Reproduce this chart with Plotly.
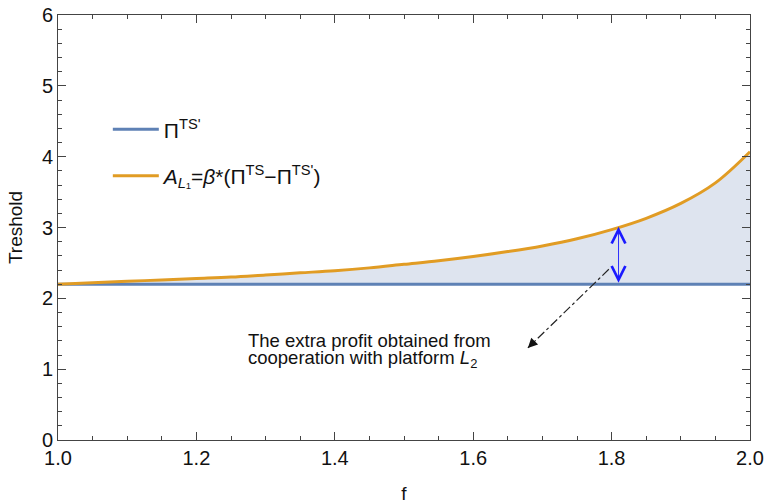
import plotly.graph_objects as go

# Data
f_vals = [1.00, 1.05, 1.10, 1.15, 1.20, 1.25, 1.30, 1.35, 1.40, 1.45, 1.50,
          1.55, 1.60, 1.65, 1.70, 1.75, 1.80, 1.85, 1.90, 1.95, 2.00]
pi_ts_prime = [2.20] * len(f_vals)
a_l1 = [2.20, 2.22, 2.24, 2.26, 2.28, 2.30, 2.33, 2.36, 2.39, 2.43, 2.48,
        2.53, 2.59, 2.66, 2.74, 2.84, 2.97, 3.13, 3.34, 3.63, 4.07]

x_ticks = [1.0, 1.2, 1.4, 1.6, 1.8, 2.0]
y_ticks = [0, 1, 2, 3, 4, 5, 6]

arrow_f = 1.81
arrow_low = 2.20
arrow_high = 3.01
pointer_start = (1.796, 2.41)
pointer_end = (1.679, 1.30)

note_lines = ["The extra profit obtained from",
              "cooperation with platform <i>L</i><sub>2</sub>"]
note_pos = [(1.272, 1.40), (1.272, 1.14)]

BLUE = "#5e81b5"
ORANGE = "#e19c24"
FILL = "rgba(222,228,239,1)"
FONT = "Liberation Sans, Arial, sans-serif"

fig = go.Figure()
# fill between the curves
fig.add_trace(go.Scatter(x=f_vals, y=pi_ts_prime, mode="lines",
                         line=dict(width=0, color=BLUE), showlegend=False,
                         hoverinfo="skip"))
fig.add_trace(go.Scatter(x=f_vals, y=a_l1, mode="lines", fill="tonexty",
                         fillcolor=FILL, line=dict(width=0, color=ORANGE, shape="spline"),
                         showlegend=False, hoverinfo="skip"))
# lines
fig.add_trace(go.Scatter(x=f_vals, y=pi_ts_prime, mode="lines",
                         line=dict(width=3, color=BLUE),
                         name="Π<sup>TS'</sup>", legendgroup="a"))
fig.add_trace(go.Scatter(x=f_vals, y=a_l1, mode="lines",
                         line=dict(width=3, color=ORANGE, shape="spline"),
                         name="<i>A</i><sub><i>L</i>₁</sub>=<i>β</i>*(Π<sup>TS</sup>−Π<sup>TS'</sup>)",
                         legendgroup="b"))

# dash-dot pointer line
fig.add_shape(type="line", x0=pointer_start[0], y0=pointer_start[1],
              x1=pointer_end[0], y1=pointer_end[1],
              line=dict(color="#222", width=1.2, dash="dashdot"))

annotations = [
    # blue double arrow
    dict(x=arrow_f, y=arrow_high, ax=arrow_f, ay=arrow_low, xref="x", yref="y",
         axref="x", ayref="y", text="", showarrow=True, arrowside="end+start",
         arrowhead=5, startarrowhead=5, arrowsize=3, startarrowsize=3,
         arrowwidth=0.9, arrowcolor="#1a1aff"),
    # pointer arrowhead
    dict(x=pointer_end[0], y=pointer_end[1], ax=8, ay=-8, xref="x", yref="y",
         text="", showarrow=True, arrowhead=2, arrowsize=1.6, arrowwidth=1.2,
         arrowcolor="#111"),
]
for txt, (nx, ny) in zip(note_lines, note_pos):
    annotations.append(dict(x=nx, y=ny, xref="x", yref="y", xanchor="left",
                            yanchor="middle", align="left", showarrow=False, text=txt,
                            font=dict(family=FONT, size=18.5, color="#111")))

axis_common = dict(showline=True, linecolor="#444", linewidth=1, mirror="ticks",
                   ticks="inside", ticklen=8, tickcolor="#444", showgrid=False,
                   zeroline=False, automargin=False, ticklabeloverflow="allow",
                   tickfont=dict(family=FONT, size=20, color="#111"))

fig.update_layout(
    width=767, height=504,
    margin=dict(l=58, r=17, t=15, b=64),
    paper_bgcolor="white", plot_bgcolor="white",
    font=dict(family=FONT, color="#111"),
    showlegend=True,
    legend=dict(x=0.072, y=0.676, xanchor="left", yanchor="middle",
                bgcolor="rgba(0,0,0,0)", font=dict(family=FONT, size=21, color="#111"),
                tracegroupgap=16, itemwidth=46),
    annotations=annotations,
    xaxis=dict(range=[1, 2], tickvals=x_ticks, ticktext=[f"{v:.1f}" for v in x_ticks],
               minor=dict(dtick=0.05, ticks="inside", ticklen=4, tickcolor="#444"),
               title=dict(text="f", font=dict(family=FONT, size=19, color="#111"), standoff=18),
               **axis_common),
    yaxis=dict(range=[0, 6], tickvals=y_ticks,
               minor=dict(dtick=0.2, ticks="inside", ticklen=4, tickcolor="#444"),
               title=dict(text="Treshold", font=dict(family=FONT, size=19, color="#111"), standoff=14),
               **axis_common),
)

# remove the default 8px page margin so the 767x504 figure fills the window exactly
fig.write_html("out.html", config={"displayModeBar": False},
               post_script="document.body.style.margin='0';")
